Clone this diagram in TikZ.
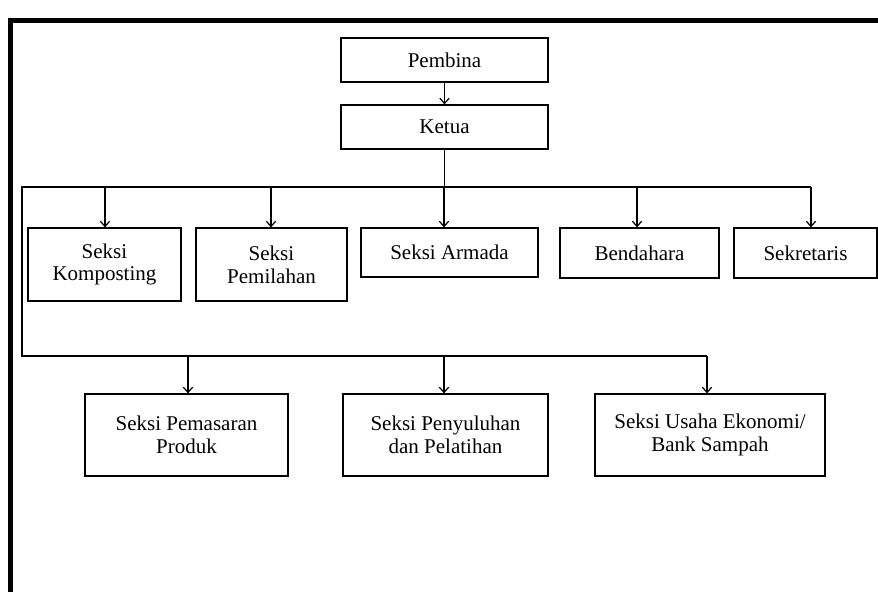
\documentclass[tikz,border=0pt]{standalone}
\usepackage{fontspec}
\setmainfont{Liberation Serif}
\usetikzlibrary{arrows.meta}

\begin{document}
\begin{tikzpicture}[x=0.75pt,y=0.75pt,yscale=-1,xscale=1,
  box/.style={draw, line width=0.9pt, inner sep=0.75pt, align=center,
    font=\fontsize{15.75}{17}\selectfont},
  link/.style={line width=0.9pt},
  arr/.style={line width=0.9pt, -{Straight Barb[length=4pt,width=7pt]}}]
\useasboundingbox (0,0) rectangle (878,592);

%Shape: Frame
\draw [line width=3.75pt] (10,592) -- (10,21) -- (878,21) ;

% Text Node
\node [box, minimum width=155.25pt, minimum height=33pt] (pembina) at (444.5,60) {Pembina};
% Text Node
\node [box, minimum width=155.25pt, minimum height=33pt] (ketua) at (444.5,127) {Ketua};

% Text Node
\node [box, minimum width=114.75pt, minimum height=54.75pt] (komposting) at (104.5,264.5) {Seksi\\Komposting};
% Text Node
\node [box, minimum width=113.25pt, minimum height=54.75pt] (pemilahan) at (271.5,264.5) {Seksi\\Pemilahan};
% Text Node
\node [box, minimum width=132.75pt, minimum height=36.75pt] (armada) at (449.5,252.5) {Seksi Armada};
% Text Node
\node [box, minimum width=119.25pt, minimum height=37.5pt] (bendahara) at (639.5,253) {Bendahara};
% Text Node
\node [box, minimum width=107.25pt, minimum height=37.5pt] (sekretaris) at (805.5,253) {Sekretaris};

% Text Node
\node [box, minimum width=152.25pt, minimum height=61.5pt] (pemasaran) at (186.5,435) {Seksi Pemasaran\\Produk};
% Text Node
\node [box, minimum width=153.75pt, minimum height=61.5pt] (penyuluhan) at (445.5,435) {Seksi Penyuluhan\\dan Pelatihan};
% Text Node
\node [box, minimum width=172.5pt, minimum height=61.5pt] (usaha) at (710,435) {Seksi Usaha Ekonomi/\\Bank Sampah};

%Connectors
\coordinate (jA) at (22,187) ;
\coordinate (jAend) at (811,187) ;
\coordinate (jB) at (22,356) ;
\coordinate (jBend) at (707,356) ;

\draw [arr] (pembina) -- (ketua) ;
\draw [link] (ketua.south) -- (ketua.south |- jA) ;
\draw [link] (jAend) -- (jA) -- (jB) -- (jBend) ;

\foreach \n/\x in {komposting/105,pemilahan/271,armada/444,bendahara/637,sekretaris/811}
  \draw [arr] (jA -| \x,0) -- (\x,0 |- \n.north) ;
\foreach \n/\x in {pemasaran/188,penyuluhan/444,usaha/707}
  \draw [arr] (jB -| \x,0) -- (\x,0 |- \n.north) ;

\end{tikzpicture}
\end{document}
